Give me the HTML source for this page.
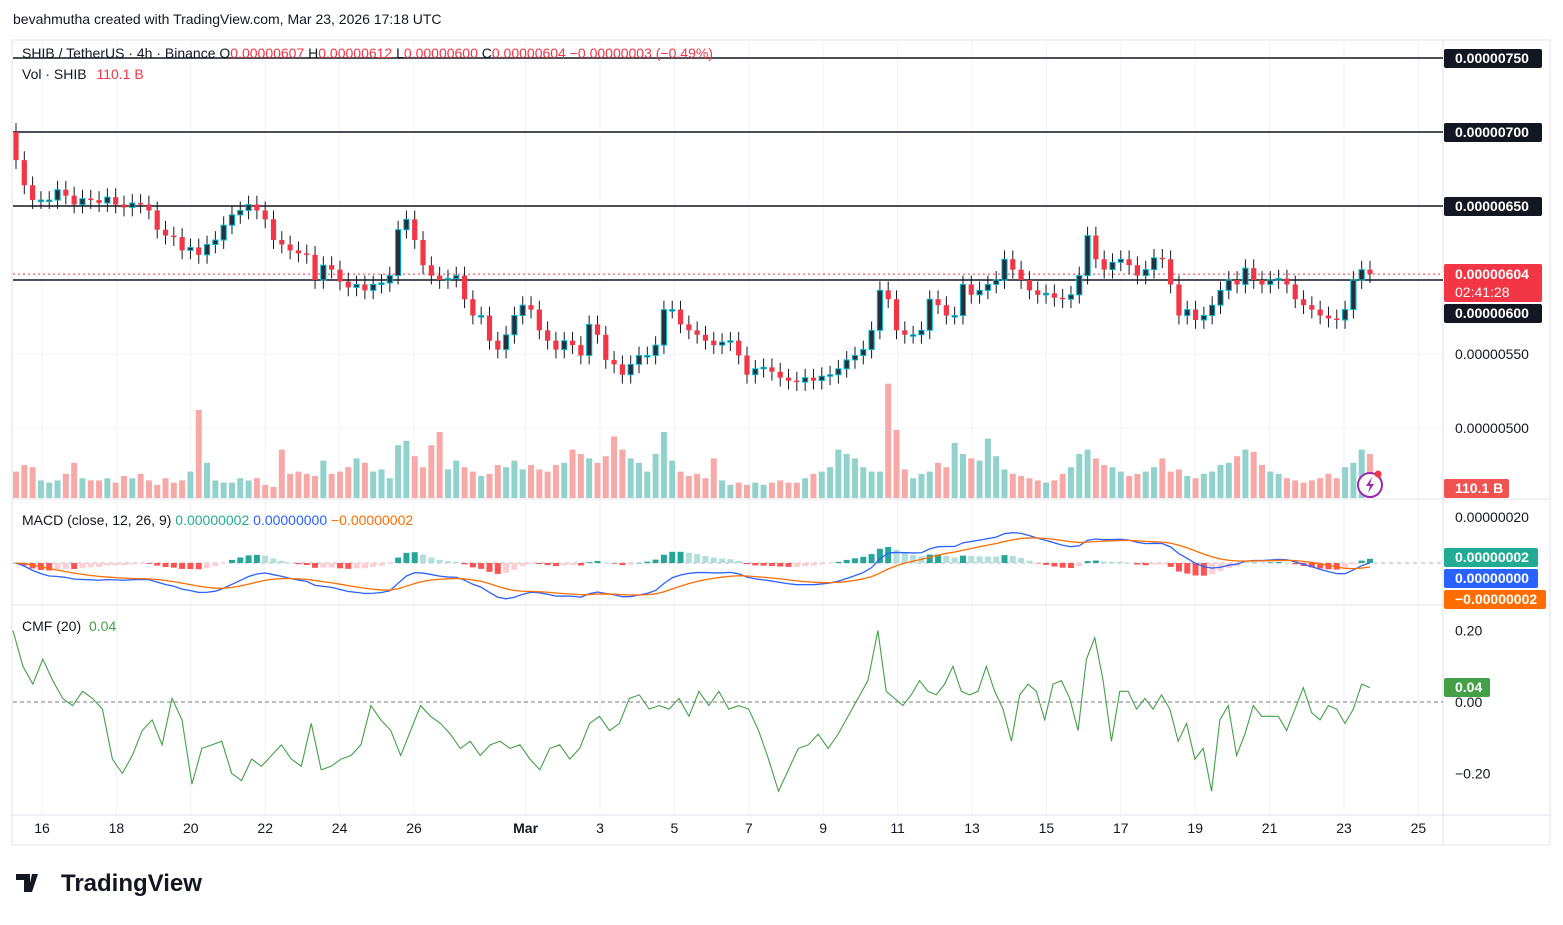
<!DOCTYPE html>
<html><head><meta charset="utf-8"><style>
body{margin:0;background:#fff;font-family:"Liberation Sans",sans-serif;}
svg text{font-family:"Liberation Sans",sans-serif;}
</style></head><body>
<svg id="c" width="1563" height="920" xmlns="http://www.w3.org/2000/svg">
<rect x="0" y="0" width="1563" height="920" fill="#fff"/>
<text x="13" y="24" font-size="14" fill="#131722">bevahmutha created with TradingView.com, Mar 23, 2026 17:18 UTC</text>
<rect x="12" y="40" width="1538" height="805" fill="none" stroke="#e0e3eb"/>
<g id="grid"></g>
<g id="marks"></g>
<text x="22" y="58" font-size="14" fill="#131722">SHIB / TetherUS · 4h · Binance  O<tspan fill="#f23645">0.00000607</tspan>  H<tspan fill="#f23645">0.00000612</tspan>  L<tspan fill="#f23645">0.00000600</tspan>  C<tspan fill="#f23645">0.00000604</tspan>  <tspan fill="#f23645">−0.00000003 (−0.49%)</tspan></text>
<text x="22" y="79" font-size="14" fill="#131722">Vol · SHIB <tspan fill="#f23645" dx="6">110.1 B</tspan></text>
<text x="22" y="525" font-size="14" fill="#131722">MACD (close, 12, 26, 9) <tspan fill="#22ab94">0.00000002</tspan> <tspan fill="#2962ff">0.00000000</tspan> <tspan fill="#ff6d00">−0.00000002</tspan></text>
<text x="22" y="631" font-size="14" fill="#131722">CMF (20) <tspan fill="#43a047" dx="4">0.04</tspan></text>
<g><path d="M16 874h14v18h-6v-12h-8z M32 874h6l-6 18h-4z" fill="#131722"/><text x="61" y="891" font-size="24" font-weight="bold" fill="#131722">TradingView</text></g>
</svg>
<script>
const closes=[681,664,654,654,654,661,657,651,655,654,652,656,651,649,652,651,647,634,630,629,620,622,617,624,627,637,644,647,651,647,641,627,624,620,618,617,600,610,607,599,595,597,593,597,598,603,634,641,627,610,603,600,601,603,587,576,576,559,553,563,576,583,580,566,559,553,559,556,549,570,563,546,543,536,543,549,549,556,580,580,570,566,563,559,556,558,559,549,536,540,541,538,534,532,531,534,532,535,536,540,546,549,553,566,593,587,566,563,563,566,587,583,576,576,597,590,593,597,600,614,607,600,593,590,591,588,587,590,603,630,614,607,612,614,610,603,607,615,614,597,576,580,573,576,583,593,600,597,608,600,597,600,601,597,587,583,580,576,574,573,580,600,607,604];
const firstOpen=700;
const volumes=[60,75,70,40,35,40,55,80,45,40,40,45,35,50,45,55,40,30,45,35,40,60,200,80,40,35,35,45,40,45,30,25,110,55,60,55,50,85,55,60,70,90,80,60,65,45,120,130,95,70,120,150,65,85,70,60,50,55,75,70,85,65,75,65,60,75,80,110,100,90,80,95,140,110,90,80,60,100,150,85,60,50,55,45,90,40,30,35,30,35,30,35,40,35,35,45,55,60,70,110,100,90,70,60,60,260,155,65,45,55,60,80,70,125,100,90,85,135,95,65,55,50,45,40,35,40,55,70,100,110,90,75,70,60,50,55,60,70,90,60,65,50,45,55,60,75,80,95,110,105,75,60,55,45,40,35,40,45,55,45,70,80,110,100];
const cmfValues=[.20,.10,.05,.12,.06,.01,-.01,.03,.01,-.02,-.16,-.20,-.15,-.08,-.05,-.12,.01,-.05,-.23,-.13,-.12,-.11,-.20,-.22,-.16,-.18,-.15,-.12,-.16,-.18,-.06,-.19,-.18,-.16,-.15,-.12,-.01,-.05,-.08,-.15,-.08,-.01,-.04,-.06,-.09,-.13,-.11,-.15,-.12,-.11,-.13,-.12,-.16,-.19,-.13,-.12,-.16,-.13,-.06,-.04,-.08,-.06,.01,.02,-.02,-.01,-.02,.01,-.04,.03,-.01,.03,-.02,-.01,-.02,-.08,-.16,-.25,-.19,-.13,-.12,-.09,-.13,-.09,-.04,.01,.06,.20,.03,.01,-.01,.02,.06,.03,.02,.05,.10,.03,.02,.03,.10,.03,-.02,-.11,.02,.05,.03,-.05,.05,.06,.01,-.08,.12,.18,.06,-.11,.03,.03,-.02,.01,-.02,.02,-.02,-.11,-.06,-.16,-.13,-.25,-.05,-.01,-.15,-.09,-.01,-.04,-.04,-.04,-.08,-.02,.04,-.03,-.05,-.01,-.02,-.06,-.02,.05,.04];
// time anchors for CMF samples (sample index -> days since Feb 15 00:00)
const cmfAnchorIdx=[0,87,146];
const cmfAnchorDay=[0.22,23.47,36.7];
const dateLabels=["16","18","20","22","24","26","Mar","3","5","7","9","11","13","15","17","19","21","23","25"];
const dateDays=[1,3,5,7,9,11,14,16,18,20,22,24,26,28,30,32,34,36,38];
const priceTicks=[750,700,650,600,550,500];
const levels=[750,700,650,600];
const macdTicks=[20];
const cmfTicks=[0.2,0,-0.2];

const NS="http://www.w3.org/2000/svg";
const G=document.getElementById('grid'),M=document.getElementById('marks');
function el(t,a,p){const e=document.createElementNS(NS,t);for(const k in a)e.setAttribute(k,a[k]);(p||M).appendChild(e);return e;}
const L=13,R=1443;
const xi=i=>16+i*(1370-16)/(closes.length-1);
const xDay=d=>4.8+d*37.2;
function cmfDay(i){for(let k=0;k<cmfAnchorIdx.length-1;k++){const a=cmfAnchorIdx[k],b=cmfAnchorIdx[k+1];if(i<=b||k===cmfAnchorIdx.length-2)return cmfAnchorDay[k]+(i-a)*(cmfAnchorDay[k+1]-cmfAnchorDay[k])/(b-a);}}
const yP=p=>58+(750-p)*74/50;
const yV=v=>498-v*0.44;
const yM=m=>563-m*2.3;
const yC=c=>702-c*357;

dateLabels.forEach((d,k)=>{const x=xDay(dateDays[k]);
 const g=el('line',{x1:x,x2:x,y1:40,y2:815,stroke:'#f0f3fa'},G);
 
 const t=el('text',{x:x,y:833,'font-size':14,'text-anchor':'middle',fill:'#131722','font-weight':d==='Mar'?'bold':'normal'});
 t.textContent=d;});
priceTicks.forEach(p=>{const g=el('line',{x1:L,x2:R,y1:yP(p),y2:yP(p),stroke:'#f0f3fa'},G);});
[499,605,815].forEach(y=>{const s=el('line',{x1:12,x2:1550,y1:y,y2:y,stroke:'#e0e3eb'},G);});
el('line',{x1:R,x2:R,y1:40,y2:845,stroke:'#e0e3eb'},G);

const opens=closes.map((c,i)=>i?closes[i-1]:firstOpen);
volumes.forEach((v,i)=>{const up=closes[i]>=opens[i];
 const r=el('rect',{x:xi(i)-3,y:yV(v),width:6,height:498-yV(v),fill:up?'#92d2cc':'#f7a9a7'});
 });

levels.forEach(p=>{const l=el('line',{x1:L,x2:R,y1:yP(p),y2:yP(p),stroke:'#131722','stroke-width':1.6});
 });
const last=closes[closes.length-1];
const cl=el('line',{x1:L,x2:R,y1:yP(last),y2:yP(last),stroke:'#f23645','stroke-dasharray':'2,3'});


const W=6;
closes.forEach((c,i)=>{const o=opens[i],up=c>=o,x=xi(i);
 const hi=Math.max(o,c)+W,lo=Math.min(o,c)-W;
 const w=el('line',{x1:x,x2:x,y1:yP(hi),y2:yP(lo),stroke:'#131722'});
 
 const top=yP(Math.max(o,c)),h=Math.max(1.5,yP(Math.min(o,c))-top);
 const b=el('rect',{x:x-2.6,y:top,width:5.2,height:h,fill:up?'#2a2e39':'#f23645',stroke:up?'#00bcd4':'none','stroke-width':1});
 });

function ema(a,n){const k=2/(n+1);let r=[];a.forEach((v,i)=>r.push(i?v*k+r[i-1]*(1-k):v));return r;}
const e12=ema(closes,12),e26=ema(closes,26);
const macd=e12.map((v,i)=>v-e26[i]);const sig=ema(macd,9);
el('line',{x1:L,x2:R,y1:563,y2:563,stroke:'#b2b5be','stroke-dasharray':'4,4'});
macd.forEach((m,i)=>{const h=m-sig[i],pr=i?macd[i-1]-sig[i-1]:0;
 const col=h>=0?(h>=pr?'#26a69a':'#b2dfdb'):(h<pr?'#ff5252':'#ffcdd2');
 const y1=yM(Math.max(h,0)),y2=yM(Math.min(h,0));
 const r=el('rect',{x:xi(i)-3,y:y1,width:6,height:Math.max(0.5,y2-y1),fill:col});
 });
const ml=el('polyline',{points:macd.map((m,i)=>xi(i)+','+yM(m)).join(' '),fill:'none',stroke:'#2962ff','stroke-width':1.3});

const sl=el('polyline',{points:sig.map((m,i)=>xi(i)+','+yM(m)).join(' '),fill:'none',stroke:'#ff6d00','stroke-width':1.3});


el('line',{x1:L,x2:R,y1:702,y2:702,stroke:'#787b86','stroke-dasharray':'4,3'});
const cm=el('polyline',{points:cmfValues.map((v,i)=>xDay(cmfDay(i))+','+yC(v)).join(' '),fill:'none',stroke:'#43a047','stroke-width':1.1});


function axLabel(y,txt,bg,fg,name,w){if(bg){const r=el('rect',{x:1444,y:y-9,width:w||98,height:19,fill:bg,rx:2});}
 const t=el('text',{x:1455,y:y+5,'font-size':14,fill:fg,'font-weight':bg?'bold':'normal'});t.textContent=txt;}
priceTicks.forEach(p=>{const lv=levels.includes(p);const y=p===600?313:yP(p);axLabel(y,'0.00000'+p,lv?'#131722':null,lv?'#fff':'#131722','price-tick-label');});
const rb=el('rect',{x:1444,y:264,width:98,height:38,fill:'#f23645',rx:2});
const t1=el('text',{x:1455,y:279,'font-size':14,fill:'#fff','font-weight':'bold'});t1.textContent='0.00000'+last;
const t2=el('text',{x:1455,y:297,'font-size':14,fill:'#fff'});t2.textContent='02:41:28';
axLabel(488,'110.1 B','#f05350','#fff','volume-label',65);
macdTicks.forEach(m=>axLabel(yM(m),'0.000000'+m,null,'#131722','macd-tick-label'));
axLabel(557,'0.00000002','#22ab94','#fff','macd-hist-label',94);
axLabel(578,'0.00000000','#2962ff','#fff','macd-value-label',94);
axLabel(599,'−0.00000002','#ff6d00','#fff','signal-value-label',102);
cmfTicks.forEach(c=>axLabel(yC(c),c===0?'0.00':(c>0?'0.20':'−0.20'),null,'#131722','cmf-tick-label'));
axLabel(687,'0.04','#43a047','#fff','cmf-value-label',46);
const ic=el('circle',{cx:1370,cy:485,r:12,fill:'#fff',stroke:'#9c27b0','stroke-width':2});
el('path',{d:'M1372 477l-6 9h4l-2 7 6-9h-4z',fill:'#9c27b0'});
el('circle',{cx:1378,cy:474,r:3.5,fill:'#f23645'});
</script>
</body></html>
